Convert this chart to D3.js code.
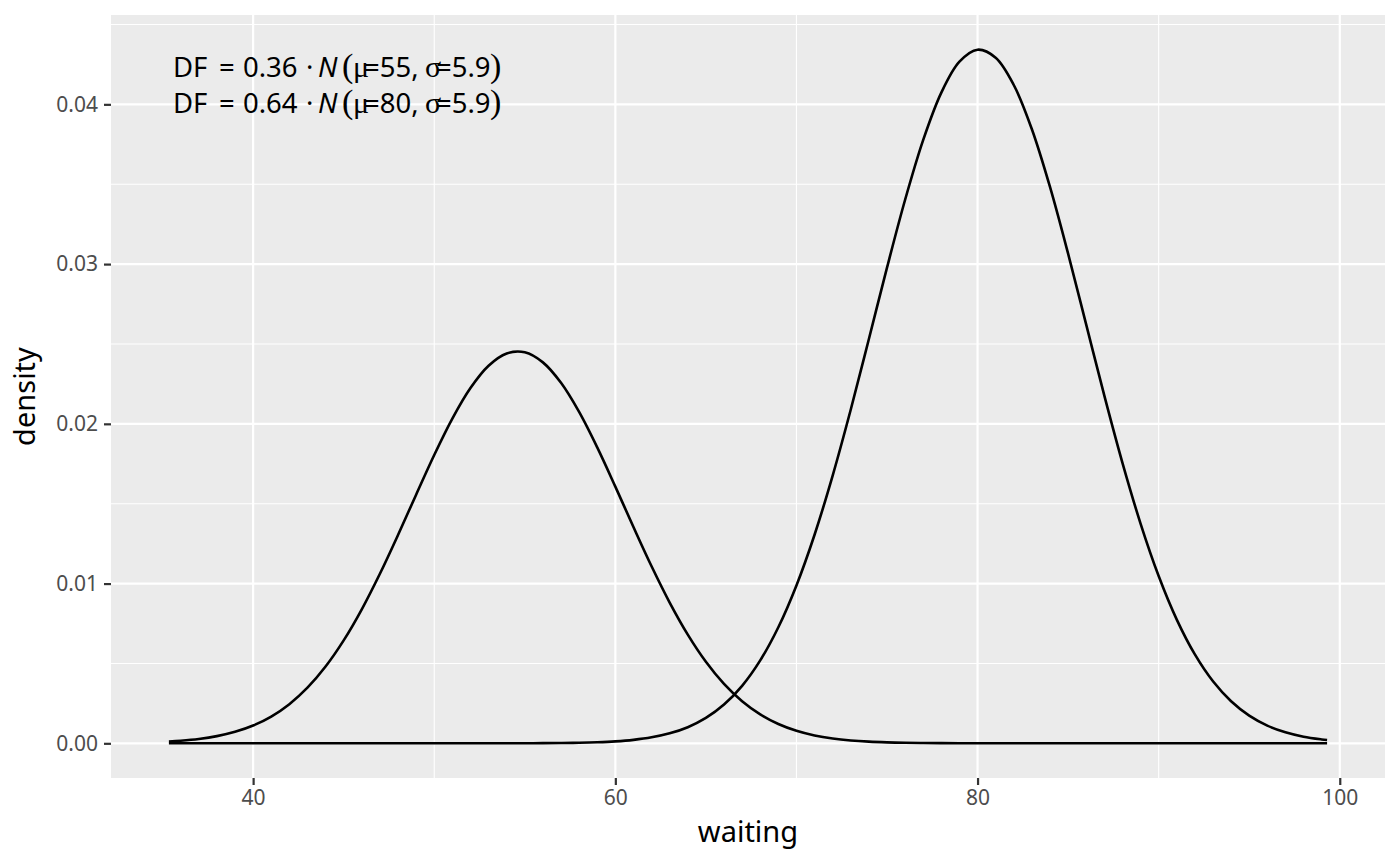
<!DOCTYPE html>
<html>
<head>
<meta charset="utf-8">
<script src="https://cdn.jsdelivr.net/npm/d3@7"></script>
<style>
  body { margin: 0; background: #fff; }
  text { font-family: 'Noto Sans', sans-serif; }
</style>
</head>
<body>
<div id="chart"></div>
<script>
const width = 1400
const height = 866

// sample positions along "waiting" and the two mixture component densities
const waiting = [35.35, 36, 37, 38, 39, 40, 41, 42, 43, 44, 45, 46, 47, 48, 49, 50, 51, 52, 53, 54,
  55, 56, 57, 58, 59, 60, 61, 62, 63, 64, 65, 66, 67, 68, 69, 70, 71, 72, 73, 74, 75, 76, 77, 78,
  79, 80, 81, 82, 83, 84, 85, 86, 87, 88, 89, 90, 91, 92, 93, 94, 95, 96, 97, 98, 99, 99.3]
const densityShort = [0.000113, 0.000162, 0.000274, 0.00045, 0.000718, 0.001113, 0.001676, 0.002451,
  0.003482, 0.004805, 0.006442, 0.008389, 0.010612, 0.01304, 0.015566, 0.018048, 0.020329, 0.022242,
  0.02364, 0.024407, 0.024478, 0.023847, 0.022568, 0.020746, 0.018526, 0.01607, 0.013541, 0.011084,
  0.008813, 0.006807, 0.005107, 0.003722, 0.002636, 0.001812, 0.001211, 0.000786, 0.000495, 0.000303,
  0.00018, 0.000104, 0.000059, 0.000032, 0.000017, 0.000009, 0.000004, 0.000002, 0.000001,
  0, 0, 0, 0, 0, 0, 0, 0, 0, 0, 0, 0, 0, 0, 0, 0, 0, 0, 0]
const densityLong = [0, 0, 0, 0, 0, 0, 0, 0, 0, 0, 0, 0, 0, 0, 0, 0, 0, 0,
  0.000001, 0.000002, 0.000005, 0.00001, 0.000019, 0.000036, 0.000068, 0.000123, 0.000218, 0.000374,
  0.000624, 0.00101, 0.001589, 0.002426, 0.003599, 0.00519, 0.007266, 0.009884, 0.013058, 0.016762,
  0.020897, 0.025309, 0.029775, 0.034027, 0.037775, 0.040736, 0.042672, 0.043422, 0.04292, 0.041212,
  0.038439, 0.034827, 0.030652, 0.026207, 0.021763, 0.017558, 0.013759, 0.010474, 0.007745, 0.005563,
  0.003881, 0.002631, 0.001733, 0.001108, 0.000689, 0.000415, 0.000244, 0.000206]

const labelLines = [
  { weight: '0.36', mu: '55', sigma: '5.9' },
  { weight: '0.64', mu: '80', sigma: '5.9' }
]

const xTicks = [40, 60, 80, 100]
const xMinor = [50, 70, 90]
const yTicks = [0, 0.01, 0.02, 0.03, 0.04]
const yMinor = [0.005, 0.015, 0.025, 0.035, 0.045]

const panel = { left: 111, right: 1385, top: 15, bottom: 778 }

const svg = d3
  .select('#chart')
  .append('svg')
  .attr('width', width)
  .attr('height', height)

// ggplot-style 5% expansion on both axes
const xExt = d3.extent(waiting)
const xPad = (xExt[1] - xExt[0]) * 0.05
const x = d3
  .scaleLinear()
  .domain([xExt[0] - xPad, xExt[1] + xPad])
  .range([panel.left, panel.right])

const yMax = d3.max(densityShort.concat(densityLong))
const y = d3
  .scaleLinear()
  .domain([-yMax * 0.05, yMax * 1.05])
  .range([panel.bottom, panel.top])

svg
  .append('rect')
  .attr('x', panel.left)
  .attr('y', panel.top)
  .attr('width', panel.right - panel.left)
  .attr('height', panel.bottom - panel.top)
  .attr('fill', '#EBEBEB')

const grid = svg.append('g')
function vLines(values, w) {
  grid
    .append('g')
    .selectAll('line')
    .data(values)
    .enter()
    .append('line')
    .attr('x1', (d) => x(d))
    .attr('x2', (d) => x(d))
    .attr('y1', panel.top)
    .attr('y2', panel.bottom)
    .attr('stroke', '#fff')
    .attr('stroke-width', w)
}
function hLines(values, w) {
  grid
    .append('g')
    .selectAll('line')
    .data(values)
    .enter()
    .append('line')
    .attr('x1', panel.left)
    .attr('x2', panel.right)
    .attr('y1', (d) => y(d))
    .attr('y2', (d) => y(d))
    .attr('stroke', '#fff')
    .attr('stroke-width', w)
}
vLines(xMinor, 1.1)
hLines(yMinor, 1.1)
vLines(xTicks, 2.2)
hLines(yTicks, 2.2)

const line = d3
  .line()
  .x((d) => x(d[0]))
  .y((d) => y(d[1]))
  .curve(d3.curveCatmullRom)

;[densityShort, densityLong].forEach((series) => {
  svg
    .append('path')
    .datum(d3.zip(waiting, series))
    .attr('d', line)
    .attr('fill', 'none')
    .attr('stroke', '#000')
    .attr('stroke-width', 2.6)
})

const xAxis = svg
  .append('g')
  .attr('transform', 'translate(0,' + panel.bottom + ')')
  .call(d3.axisBottom(x).tickValues(xTicks).tickSize(7).tickPadding(5).tickFormat(d3.format('d')))
const yAxis = svg
  .append('g')
  .attr('transform', 'translate(' + panel.left + ',0)')
  .call(d3.axisLeft(y).tickValues(yTicks).tickSize(7).tickPadding(6).tickFormat(d3.format('.2f')))

;[xAxis, yAxis].forEach((ax) => {
  ax.select('.domain').remove()
  ax.selectAll('.tick line').attr('stroke', '#333').attr('stroke-width', 2.2)
  ax.selectAll('.tick text')
    .attr('fill', '#4D4D4D')
    .style('font-family', "'Noto Sans', sans-serif")
    .style('font-size', '21px')
})

svg
  .append('text')
  .attr('x', (panel.left + panel.right) / 2)
  .attr('y', 842)
  .attr('text-anchor', 'middle')
  .style('font-size', '29px')
  .text('waiting')

svg
  .append('text')
  .attr('transform', 'translate(35,' + (panel.top + panel.bottom) / 2 + ') rotate(-90)')
  .attr('text-anchor', 'middle')
  .style('font-size', '29px')
  .text('density')

// plotmath-like annotation: DF == w %.% italic(N)(mu == m, sigma == s)
const serif = "'Liberation Serif', 'DejaVu Serif', serif"
const x0 = 173
const ann = svg
  .selectAll('.ann')
  .data(labelLines)
  .enter()
  .append('text')
  .attr('y', (_d, i) => 77 + i * 36)
  .style('font-size', '27.5px')
  .attr('fill', '#000')

const part = (dx, txt) => ann.append('tspan').attr('x', x0 + dx).text(txt)
part(0, 'DF')
part(46, '=')
part(70, (d) => d.weight)
part(133, '\u00B7')
part(145, 'N').style('font-style', 'italic')
part(169, '(').style('font-family', serif).style('font-size', '34px')
part(180, '\u03BC').style('font-family', serif).style('font-size', '30px')
part(191, (d) => '=' + d.mu + ',')
part(252, '\u03C3').style('font-family', serif).style('font-size', '30px')
part(263, (d) => '=' + d.sigma)
part(317, ')').style('font-family', serif).style('font-size', '34px')
</script>
</body>
</html>
